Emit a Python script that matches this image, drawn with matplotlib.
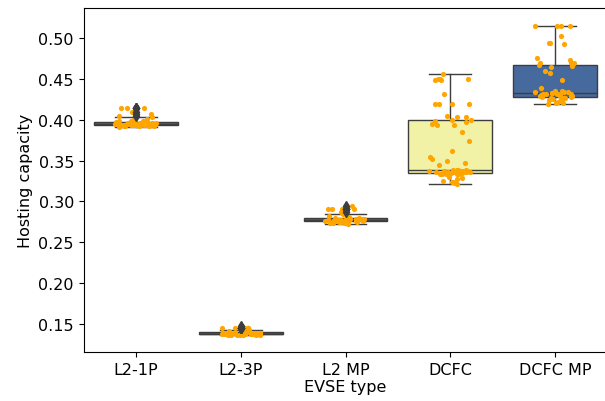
import numpy as np
import matplotlib
matplotlib.use("Agg")
import matplotlib.pyplot as plt

# --- Data ---
categories = ["L2-1P", "L2-3P", "L2 MP", "DCFC", "DCFC MP"]

l2_1p = [0.3915, 0.392, 0.392, 0.3925, 0.393, 0.393, 0.393, 0.3932, 0.3935, 0.3935,
         0.394, 0.394, 0.394, 0.394, 0.3942, 0.3945, 0.3945, 0.395, 0.395, 0.395,
         0.3952, 0.3955, 0.396, 0.396, 0.396, 0.3962, 0.3965, 0.397, 0.397, 0.3975,
         0.398, 0.3985, 0.399, 0.392, 0.3928, 0.3938, 0.3948, 0.3958, 0.3968, 0.393,
         0.394, 0.395, 0.3935, 0.3945, 0.400, 0.4005, 0.403, 0.404, 0.407, 0.410,
         0.414, 0.414, 0.414, 0.414]

l2_3p = [0.1365, 0.137, 0.137, 0.137, 0.1372, 0.1375, 0.1375, 0.1378, 0.138, 0.138,
         0.138, 0.138, 0.1382, 0.1385, 0.1385, 0.139, 0.139, 0.1368, 0.1373, 0.1377,
         0.1381, 0.1384, 0.1387, 0.137, 0.1376, 0.1379, 0.1383, 0.1374, 0.1371, 0.1386,
         0.1395, 0.140, 0.141, 0.142, 0.143, 0.1455, 0.1455, 0.1455, 0.1455, 0.1455,
         0.1455, 0.147]

l2_mp = [0.2725, 0.273, 0.2735, 0.274, 0.274, 0.2745, 0.275, 0.275, 0.2755, 0.2755,
         0.276, 0.276, 0.276, 0.2765, 0.2765, 0.277, 0.277, 0.277, 0.2772, 0.2775,
         0.2775, 0.278, 0.278, 0.278, 0.2785, 0.2785, 0.279, 0.279, 0.2795, 0.280,
         0.2738, 0.2748, 0.2758, 0.2768, 0.2778, 0.2788, 0.281, 0.282, 0.284, 0.287,
         0.2905, 0.2905, 0.2905, 0.2905, 0.2905, 0.294]

dcfc = [0.456, 0.450, 0.450, 0.450, 0.448, 0.448, 0.4315, 0.419, 0.419, 0.419,
        0.419, 0.405, 0.4037, 0.4037, 0.3995, 0.399, 0.400, 0.397, 0.395, 0.394,
        0.393, 0.385, 0.374, 0.362, 0.354, 0.352, 0.350, 0.347, 0.345,
        0.333, 0.3333, 0.3336, 0.334, 0.334, 0.3343, 0.3346, 0.335, 0.335, 0.3353,
        0.3356, 0.336, 0.336, 0.3363, 0.3366, 0.337, 0.337, 0.3373, 0.3376, 0.338,
        0.338, 0.3383, 0.3386,
        0.324, 0.324, 0.3275, 0.3255, 0.3213, 0.322, 0.329, 0.330]

dcfc_mp = [0.515, 0.515, 0.515, 0.515, 0.502, 0.4935, 0.4935, 0.4927, 0.4755, 0.473,
           0.470, 0.470, 0.469, 0.467, 0.466, 0.465, 0.459, 0.457, 0.449, 0.439,
           0.4355, 0.435, 0.4345, 0.434, 0.4335, 0.433, 0.4325, 0.432, 0.4318, 0.4315,
           0.4312, 0.431, 0.4305, 0.430, 0.4295, 0.429, 0.4288, 0.4285, 0.428, 0.4275,
           0.427, 0.4265, 0.426, 0.4255, 0.425, 0.4245, 0.424, 0.4242,
           0.422, 0.421, 0.420, 0.419]

groups = [l2_1p, l2_3p, l2_mp, dcfc, dcfc_mp]
box_colors = ["#5a6b5a", "#585858", "#675f58", "#f2f2a6", "#476a9e"]
LINE_COLOR = "#3d3d3d"


def main():
    plt.rcParams["font.size"] = 11.5
    fig = plt.figure(figsize=(6.05, 4.02), dpi=100)
    ax = fig.add_axes([0.1382, 0.1219, 0.8658, 0.8557])

    pos = np.arange(len(categories))
    bp = ax.boxplot(
        groups, positions=pos, widths=0.8, patch_artist=True,
        medianprops=dict(color=LINE_COLOR, linewidth=1),
        whiskerprops=dict(color=LINE_COLOR, linewidth=1),
        capprops=dict(color=LINE_COLOR, linewidth=1),
        boxprops=dict(edgecolor=LINE_COLOR, linewidth=1),
        flierprops=dict(marker="d", markersize=5, markerfacecolor=LINE_COLOR,
                        markeredgecolor=LINE_COLOR),
    )
    for patch, c in zip(bp["boxes"], box_colors):
        patch.set_facecolor(c)
    for fl in bp["fliers"]:
        fl.set_zorder(4)

    # strip points with horizontal jitter
    rng = np.random.default_rng(3)
    for i, vals in enumerate(groups):
        xs = i + rng.uniform(-0.2, 0.2, len(vals))
        ax.scatter(xs, vals, s=14, color="orange", linewidths=0, zorder=3)

    ax.set_xticks(pos)
    ax.set_xticklabels(categories)
    ax.set_xlim(-0.5, 4.5)
    ax.set_ylim(0.1157, 0.5367)
    ax.set_yticks([0.15, 0.20, 0.25, 0.30, 0.35, 0.40, 0.45, 0.50])
    ax.set_yticklabels([f"{v:.2f}" for v in ax.get_yticks()])
    ax.set_xlabel("EVSE type", labelpad=2)
    ax.set_ylabel("Hosting capacity")

    fig.savefig("out.png", dpi=100)


if __name__ == "__main__":
    main()
